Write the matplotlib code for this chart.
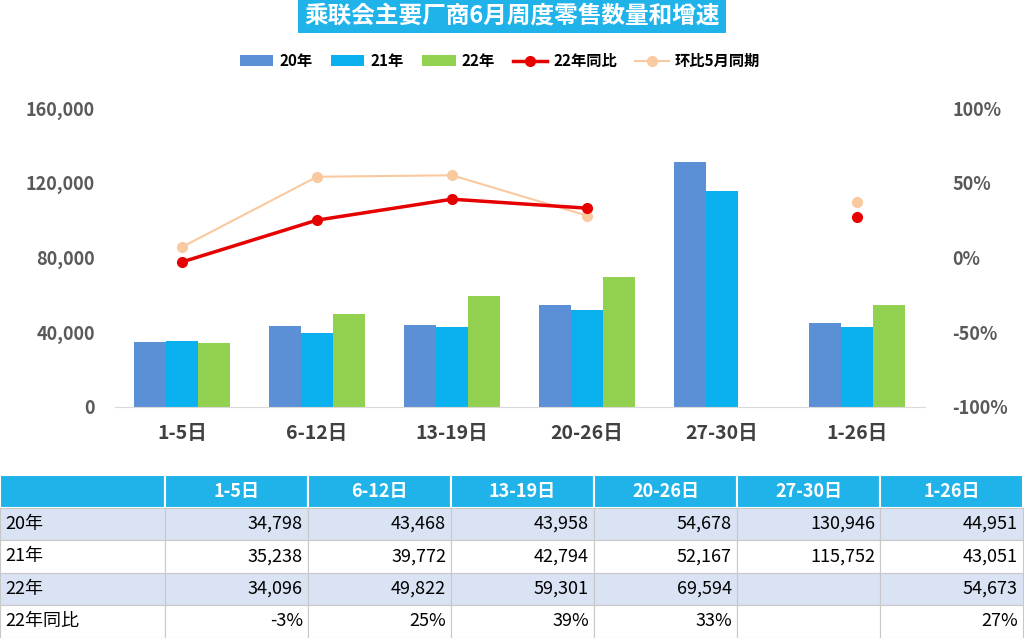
import numpy as np
import matplotlib.pyplot as plt
from matplotlib.patches import Rectangle

plt.rcParams['font.family'] = ['Noto Sans CJK JP', 'Noto Sans CJK SC', 'Noto Sans CJK TC',
                               'Noto Sans CJK KR', 'DejaVu Sans']

categories = ['1-5日', '6-12日', '13-19日', '20-26日', '27-30日', '1-26日']
y20 = [34798, 43468, 43958, 54678, 130946, 44951]
y21 = [35238, 39772, 42794, 52167, 115752, 43051]
y22 = [34096, 49822, 59301, 69594, np.nan, 54673]
yoy22 = [-3, 25, 39, 33, np.nan, 27]
mom5 = [7, 54, 55, 28, np.nan, 37]
left_ticks = [0, 40000, 80000, 120000, 160000]
right_ticks = [-100, -50, 0, 50, 100]

W, H = 1024, 638
fig = plt.figure(figsize=(W / 100, H / 100), dpi=100)

def box(l, t, r, b):
    return [l / W, 1 - b / H, (r - l) / W, (b - t) / H]

c20, c21, c22 = '#5b8fd6', '#0bb0ef', '#92d050'
cred, cpeach = '#e60000', '#f9c9a0'
gray = '#595959'

ax = fig.add_axes(box(114.5, 108, 924.5, 407))
x = np.arange(len(categories))
bw = 0.235
ax.bar(x - bw, y20, bw, color=c20, label='20年')
ax.bar(x, y21, bw, color=c21, label='21年')
ax.bar(x + bw, y22, bw, color=c22, label='22年')
ax.set_xlim(-0.5, len(categories) - 0.5)
ax.set_ylim(0, 160000)
ax.set_yticks(left_ticks)
ax.set_yticklabels([f'{v:,}' for v in left_ticks], fontsize=13, fontweight='bold', color=gray)
ax.set_xticks(x)
ax.set_xticklabels(categories, fontsize=14, fontweight='bold', color='#404040')
ax.tick_params(length=0, pad=12)
ax.tick_params(axis='y', pad=14)
for s in ['top', 'left', 'right']:
    ax.spines[s].set_visible(False)
ax.spines['bottom'].set_color('#d9d9d9')

ax2 = ax.twinx()
ax2.plot(x, mom5, color=cpeach, lw=1.5, marker='o', ms=7, label='环比5月同期')
ax2.plot(x, yoy22, color=cred, lw=2.5, marker='o', ms=7, label='22年同比')
ax2.set_ylim(-100, 100)
ax2.set_yticks(right_ticks)
ax2.set_yticklabels([f'{v}%' for v in right_ticks], fontsize=13, fontweight='bold', color=gray)
ax2.tick_params(length=0, pad=20)
for s in ax2.spines.values():
    s.set_visible(False)

h1, l1 = ax.get_legend_handles_labels()
h2, l2 = ax2.get_legend_handles_labels()
fig.legend(h1 + h2[::-1], l1 + l2[::-1], loc='center', bbox_to_anchor=(500 / W, 1 - 61 / H),
           ncol=5, frameon=False, prop={'size': 11, 'weight': 'bold'}, handlelength=2.2,
           columnspacing=1.2, handletextpad=0.4)

fig.text(512 / W, 1 - 15 / H, '乘联会主要厂商6月周度零售数量和增速', ha='center', va='center',
         fontsize=17, fontweight='bold', color='white',
         bbox=dict(boxstyle='square,pad=0.25', fc='#1fb3ea', ec='none'))

# table
tx = fig.add_axes([0, 0, 1, 1 - 475 / H])
tx.set_xlim(0, W)
tx.set_ylim(H, 475)
tx.axis('off')
col_edges = [0, 165] + [165 + 143 * (i + 1) for i in range(6)]
row_h = 32.5
rows = [('20年', y20), ('21年', y21), ('22年', y22)]
fmt = lambda v: '' if np.isnan(v) else f'{int(v):,}'
row_data = [(n, [fmt(v) for v in vals]) for n, vals in rows]
row_data.append(('22年同比', ['' if np.isnan(v) else f'{int(v)}%' for v in yoy22]))
# header
for j in range(7):
    tx.add_patch(Rectangle((col_edges[j], 475), col_edges[j + 1] - col_edges[j], row_h,
                           fc='#1fb3ea', ec='white', lw=1.5))
    if j > 0:
        tx.text(col_edges[j] + 71.5, 475 + row_h / 2, categories[j - 1], ha='center', va='center',
                fontsize=13, fontweight='bold', color='white')
for i, (name, vals) in enumerate(row_data):
    top = 475 + row_h * (i + 1)
    fc = '#d9e3f3' if i % 2 == 0 else 'white'
    for j in range(7):
        tx.add_patch(Rectangle((col_edges[j], top), col_edges[j + 1] - col_edges[j], row_h,
                               fc=fc, ec='#c8c8c8', lw=0.8))
    tx.text(5, top + row_h / 2, name, ha='left', va='center', fontsize=13, color='black')
    for j, v in enumerate(vals):
        tx.text(col_edges[j + 2] - 5, top + row_h / 2, v, ha='right', va='center',
                fontsize=13, color='black')

fig.savefig('out.png', dpi=100)
